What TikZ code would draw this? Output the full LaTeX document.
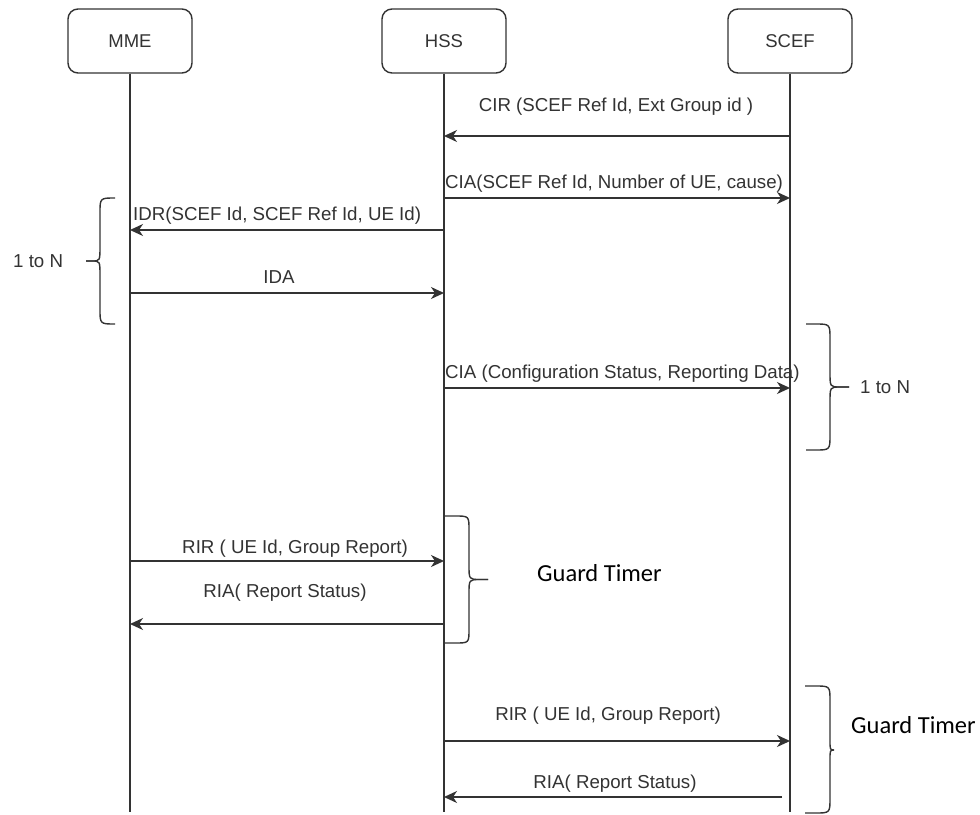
\documentclass[tikz,border=0pt]{standalone}
\usepackage{fontspec}
\setmainfont{Liberation Sans}
\newfontfamily\guardfont{Carlito}
\usetikzlibrary{arrows.meta}
\definecolor{linec}{HTML}{333333}
\definecolor{textc}{HTML}{333333}
\begin{document}
\begin{tikzpicture}[x=1pt,y=-1pt,
  ent/.style={draw=linec, line width=1.4pt, rounded corners=10pt, minimum width=124pt, minimum height=64pt, inner sep=0pt, font=\fontsize{18.5}{22}\selectfont, text=textc},
  life/.style={draw=linec, line width=1.4pt},
  msg/.style={draw=linec, line width=1.4pt, -{Stealth[length=13pt,width=12pt,inset=4pt]}},
  lbl/.style={inner sep=0pt, font=\fontsize{18.7}{22}\selectfont, text=textc, anchor=base},
  lblw/.style={lbl, anchor=base west},
  brc/.style={draw=linec, line width=1.4pt},
  gt/.style={inner sep=0pt, font=\guardfont\fontsize{24.5}{28}\selectfont, anchor=base west, text=black}]
\useasboundingbox (0,0) rectangle (980,814);
\fill[white] (0,0) rectangle (980,814);

% entities
\node[ent] (mme) at (130,41) {MME};
\node[ent] (hss) at (444,41) {HSS};
\node[ent] (scef) at (790,41) {SCEF};

% lifelines
\coordinate (mmeEnd) at (130,812);
\coordinate (hssEnd) at (444,812);
\coordinate (scefEnd) at (790,812);
\draw[life] (mme.south) -- (mmeEnd);
\draw[life] (hss.south) -- (hssEnd);
\draw[life] (scef.south) -- (scefEnd);

% message anchor points
\coordinate (s1) at (790,136); \coordinate (h1) at (444,136);
\coordinate (h2) at (444,198); \coordinate (s2) at (790,198);
\coordinate (h3) at (444,230); \coordinate (m3) at (130,230);
\coordinate (m4) at (130,293); \coordinate (h4) at (444,293);
\coordinate (h5) at (444,388); \coordinate (s5) at (790,388);
\coordinate (m6) at (130,561); \coordinate (h6) at (444,561);
\coordinate (h7) at (444,624); \coordinate (m7) at (130,624);
\coordinate (h8) at (444,741); \coordinate (s8) at (790,741);
\coordinate (s9) at (782,797); \coordinate (h9) at (444,797);

\draw[msg] (s1) -- (h1);
\draw[msg] (h2) -- (s2);
\draw[msg] (h3) -- (m3);
\draw[msg] (m4) -- (h4);
\draw[msg] (h5) -- (s5);
\draw[msg] (m6) -- (h6);
\draw[msg] (h7) -- (m7);
\draw[msg] (h8) -- (s8);
\draw[msg] (s9) -- (h9);

% labels
\node[lbl] (l1) at (616,111) {CIR (SCEF Ref Id, Ext Group id )};
\node[lblw] (l2) at (445,188) {CIA(SCEF Ref Id, Number of UE, cause)};
\node[lblw] (l3) at (133,220) {IDR(SCEF Id, SCEF Ref Id, UE Id)};
\node[lbl] (l4) at (279,283) {IDA};
\node[lblw] (l5) at (445,378) {CIA (Configuration Status, Reporting Data)};
\node[lbl] (l6) at (295,553) {RIR ( UE Id, Group Report)};
\node[lbl] (l7) at (285,597) {RIA( Report Status)};
\node[lbl] (l8) at (608,720) {RIR ( UE Id, Group Report)};
\node[lbl] (l9) at (615,788) {RIA( Report Status)};

% braces
\draw[brc] (115,198) .. controls (100,198) .. (100,213) -- (100,246) .. controls (100,261) .. (92,261) -- (86,261);
\draw[brc] (86,261) -- (92,261) .. controls (100,261) .. (100,276) -- (100,309) .. controls (100,324) .. (115,324);
\node[lblw] (n1) at (13,267) {1 to N};

\draw[brc] (806,324) -- (815,324) .. controls (830,324) .. (830,339) -- (830,372) .. controls (830,387) .. (840,387) -- (849,387);
\draw[brc] (849,387) -- (840,387) .. controls (830,387) .. (830,402) -- (830,435) .. controls (830,450) .. (815,450) -- (806,450);
\node[lblw] (n2) at (860,393) {1 to N};

\draw[brc] (444,516) -- (455,516) .. controls (469,516) .. (469,530) -- (469,565) .. controls (469,579.5) .. (480,579.5) -- (488,579.5);
\draw[brc] (488,579.5) -- (480,579.5) .. controls (469,579.5) .. (469,594) -- (469,629) .. controls (469,643) .. (455,643) -- (444,643);
\node[gt] (g1) at (537,581) {Guard Timer};

\draw[brc] (805,686) -- (815,686) .. controls (830,686) .. (830,701) -- (830,740) .. controls (830,750) .. (834,750);
\draw[brc] (834,750) .. controls (830,750) .. (830,760) -- (830,798) .. controls (830,813) .. (815,813) -- (805,813);
\node[gt] (g2) at (851,733) {Guard Timer};
\end{tikzpicture}
\end{document}
